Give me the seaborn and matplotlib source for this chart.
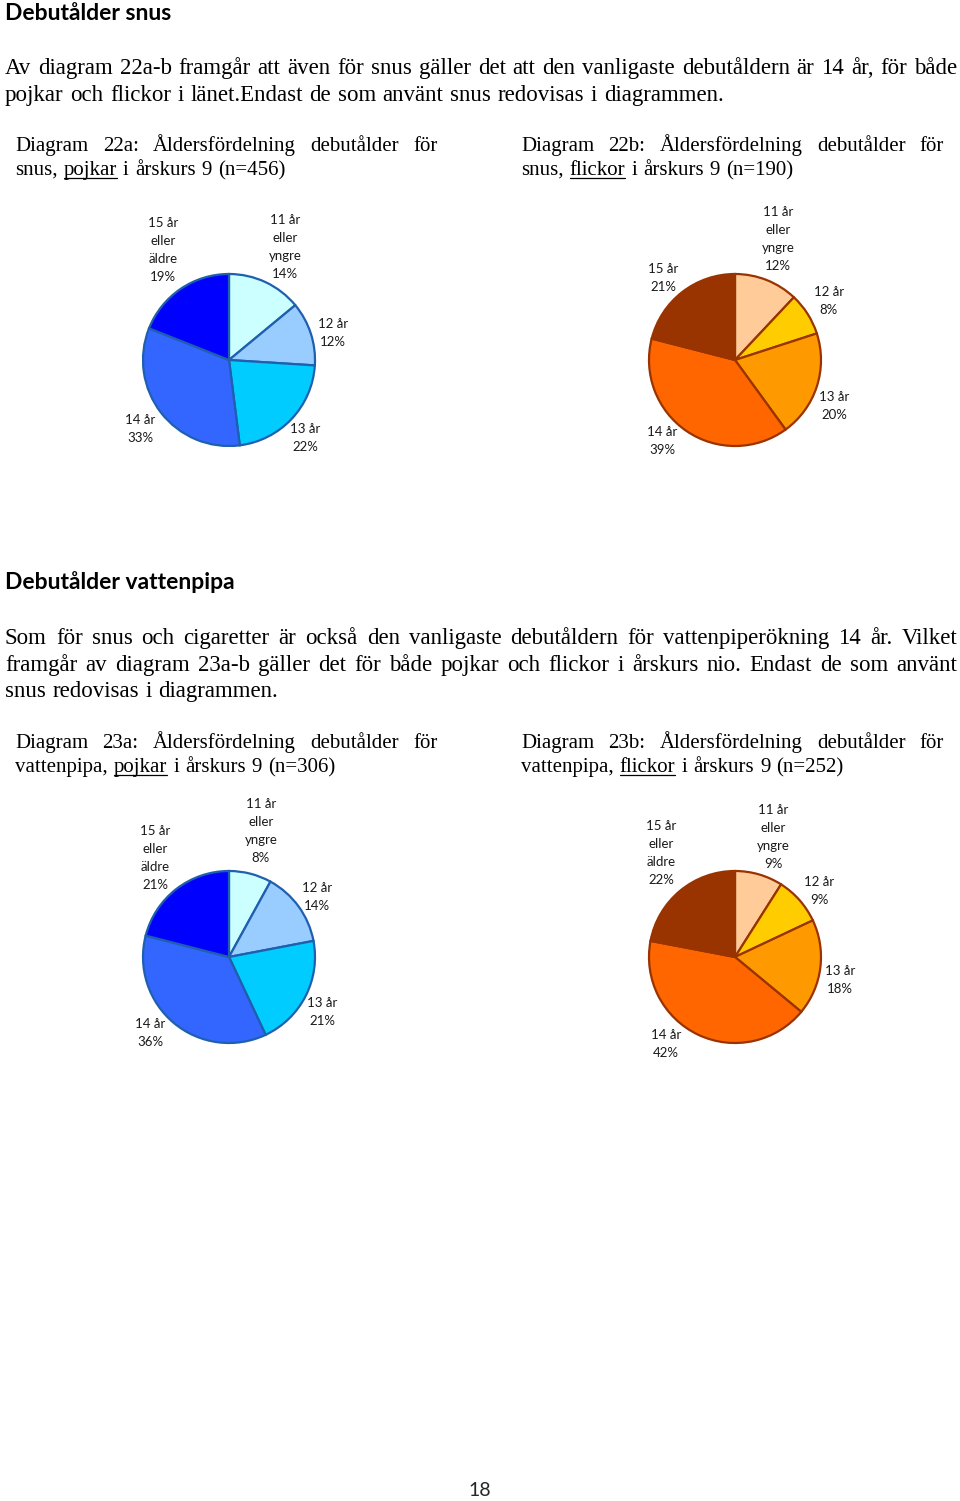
import matplotlib
matplotlib.use("Agg")
import matplotlib.pyplot as plt
import seaborn as sns

sns.set_theme(style="white")
plt.rcParams['font.family'] = ['Liberation Serif', 'DejaVu Serif']

# ---------------- data ----------------
age_labels_a = ["11 år\neller\nyngre", "12 år", "13 år", "14 år", "15 år\neller\näldre"]
age_labels_22b = ["11 år\neller\nyngre", "12 år", "13 år", "14 år", "15 år"]
snus_pojkar = [14, 12, 22, 33, 19]
snus_flickor = [12, 8, 20, 39, 21]
vp_pojkar = [8, 14, 21, 36, 21]
vp_flickor = [9, 9, 18, 42, 22]

blue_colors = ["#CCFFFF", "#99CCFF", "#00CCFF", "#3366FF", "#0000FF"]
orange_colors = ["#FFCC99", "#FFCC00", "#FF9900", "#FF6600", "#993300"]

W, H = 960, 1501
fig = plt.figure(figsize=(W / 100, H / 100), dpi=100)
fig.patch.set_facecolor("white")
renderer = fig.canvas.get_renderer()

def fx(x):
    return x / W

def fy(y):
    return 1 - y / H

SERIF = ['Liberation Serif', 'DejaVu Serif']
SANS = ['Lato', 'DejaVu Sans']

def word_width(w, size):
    t = fig.text(0, 0, w, fontsize=size, family=SERIF)
    bb = t.get_window_extent(renderer=renderer)
    t.remove()
    return bb.width

def line(text, x0, y, size, x1=None, underline=None):
    words = text.split(" ")
    widths = [word_width(w, size) for w in words]
    space = word_width("a a", size) - word_width("aa", size)
    if x1 is not None and len(words) > 1:
        gap = (x1 - x0 - sum(widths)) / (len(words) - 1)
    else:
        gap = space * 1.15
    x = x0
    for w, wd in zip(words, widths):
        fig.text(fx(x), fy(y), w, fontsize=size, family=SERIF, va="baseline", ha="left", color="black")
        if underline is not None and w.rstrip(",") == underline:
            uw = word_width(w.rstrip(","), size)
            fig.add_artist(plt.Line2D([fx(x), fx(x + uw)], [fy(y + 3), fy(y + 3)], color="black", lw=0.9))
        x += wd + gap

def heading(text, y):
    fig.text(fx(5), fy(y), text, fontsize=16.5, family=SANS, fontweight="bold", va="baseline", ha="left", color="black")

BODY = 16.5
CAP = 15

heading("Debutålder snus", 20)
line("Av diagram 22a-b framgår att även för snus gäller det att den vanligaste debutåldern är 14 år, för både", 5, 74, BODY, 957)
line("pojkar och flickor i länet.Endast de som använt snus redovisas i diagrammen.", 5, 101, BODY)
line("Diagram 22a: Åldersfördelning debutålder för", 15, 151, CAP, 438)
line("snus, pojkar i årskurs 9 (n=456)", 15, 175, CAP, underline="pojkar")
line("Diagram 22b: Åldersfördelning debutålder för", 521, 151, CAP, 944)
line("snus, flickor i årskurs 9 (n=190)", 521, 175, CAP, underline="flickor")

heading("Debutålder vattenpipa", 589)
line("Som för snus och cigaretter är också den vanligaste debutåldern för vattenpiperökning 14 år. Vilket", 5, 644, BODY, 957)
line("framgår av diagram 23a-b gäller det för både pojkar och flickor i årskurs nio. Endast de som använt", 5, 671, BODY, 957)
line("snus redovisas i diagrammen.", 5, 697, BODY)
line("Diagram 23a: Åldersfördelning debutålder för", 15, 748, CAP, 438)
line("vattenpipa, pojkar i årskurs 9 (n=306)", 15, 772, CAP, underline="pojkar")
line("Diagram 23b: Åldersfördelning debutålder för", 521, 748, CAP, 944)
line("vattenpipa, flickor i årskurs 9 (n=252)", 521, 772, CAP, underline="flickor")

fig.text(fx(480), fy(1491), "18", fontsize=14, family=SANS, ha="center", va="center")

def pie(values, labels, colors, edge, cx, cy, r, label_pos):
    ax = fig.add_axes([fx(cx - r - 2), fy(cy + r + 2), (2 * r + 4) / W, (2 * r + 4) / H])
    ax.pie(values, colors=colors, startangle=90, counterclock=False,
           wedgeprops=dict(edgecolor=edge, linewidth=1.6))
    lim = (r + 2) / r
    ax.set_xlim(-lim, lim)
    ax.set_ylim(-lim, lim)
    ax.set_aspect("equal")
    ax.axis("off")
    for lab, v, (lx, ly) in zip(labels, values, label_pos):
        fig.text(fx(lx), fy(ly), f"{lab}\n{v}%", fontsize=9.5, family=SANS,
                 ha="center", va="center", linespacing=1.6, color="#1a1a1a")

pie(snus_pojkar, age_labels_a, blue_colors, "#1F5FAF", 229, 360, 86,
    [(285, 247), (333, 333), (305, 438), (140, 429), (163, 250)])
pie(snus_flickor, age_labels_22b, orange_colors, "#993300", 735, 360, 86,
    [(778, 239), (829, 301), (834, 406), (662, 441), (663, 278)])
pie(vp_pojkar, age_labels_a, blue_colors, "#1F5FAF", 229, 957, 86,
    [(261, 831), (317, 897), (322, 1012), (150, 1033), (155, 858)])
pie(vp_flickor, age_labels_a, orange_colors, "#993300", 735, 957, 86,
    [(773, 837), (819, 891), (840, 980), (666, 1044), (661, 853)])

fig.savefig("out.png", dpi=100, facecolor="white")
